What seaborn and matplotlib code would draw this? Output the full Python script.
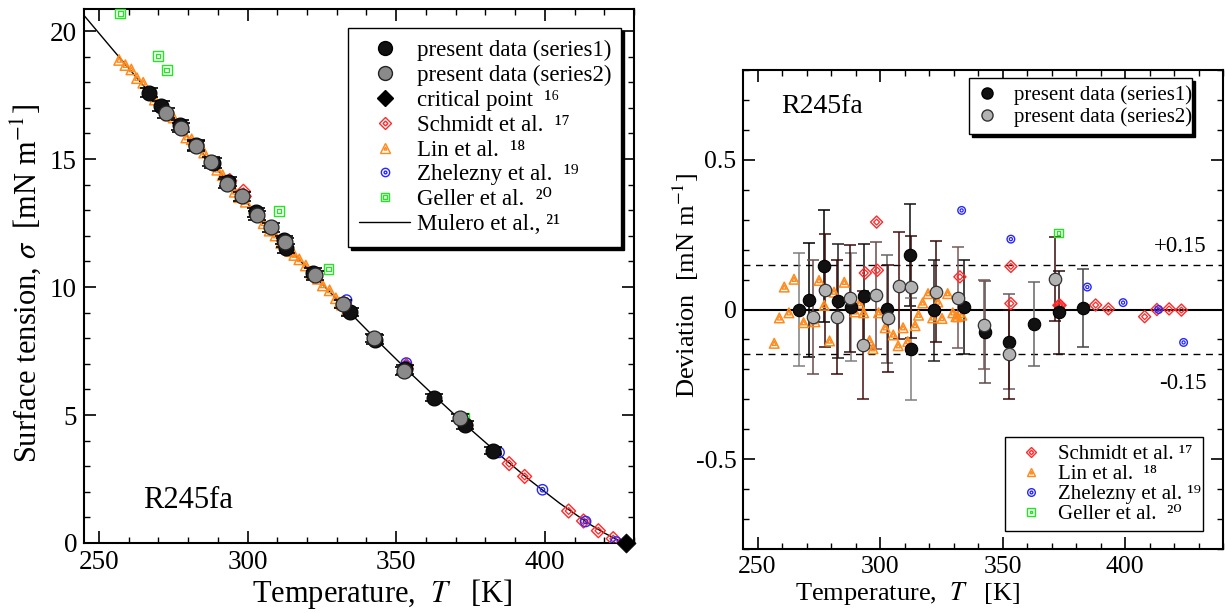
import matplotlib
matplotlib.use("Agg")
import matplotlib.pyplot as plt
import seaborn as sns
import numpy as np
import pandas as pd
from matplotlib.lines import Line2D
from matplotlib.legend_handler import HandlerTuple
from matplotlib.ticker import MultipleLocator, FixedLocator, FixedFormatter

# ------------------------------------------------------------------ data
# present data, series 1 (black)
s1_T = [266.9, 270.9, 277.3, 282.8, 288.3, 293.4, 303.0, 312.3, 312.8, 321.9,
        334.3, 342.8, 352.8, 362.8, 373.0, 382.7]
s1_sigma = [17.60, 17.07, 16.33, 15.55, 14.85, 14.11, 12.92, 11.84, 11.51, 10.56,
            9.02, 7.95, 6.78, 5.68, 4.61, 3.61]
s1_dev = [0.000, 0.031, 0.144, 0.029, 0.009, 0.045, 0.002, 0.183, -0.131, -0.003,
          0.009, -0.074, -0.107, -0.048, -0.010, 0.004]
s1_err = [0.19, 0.19, 0.187, 0.19, 0.18, 0.175, 0.18, 0.17, 0.17, 0.168,
          0.158, 0.17, 0.16, 0.14, 0.139, 0.13]

# present data, series 2 (gray)
s2_T = [272.7, 277.7, 282.6, 287.7, 293.1, 298.2, 303.3, 307.9, 312.5, 322.8,
        332.0, 342.4, 352.7, 371.5]
s2_sigma = [16.81, 16.23, 15.50, 14.89, 14.04, 13.55, 12.81, 12.33, 11.74, 10.46,
            9.33, 8.01, 6.72, 4.90]
s2_dev = [-0.024, 0.064, -0.024, 0.037, -0.118, 0.047, -0.030, 0.080, 0.074, 0.060,
          0.040, -0.051, -0.150, 0.103]
s2_err = [0.19, 0.188, 0.19, 0.18, 0.18, 0.18, 0.18, 0.18, 0.17, 0.17,
          0.168, 0.149, 0.15, 0.14]

# critical point
crit_T = [427.16]
crit_sigma = [0.0]

# Schmidt et al. 17
schmidt_T = [294.0, 298.6, 298.9, 332.6, 353.4, 353.4, 373.0, 373.5, 388.0, 393.2,
             408.0, 413.0, 418.0, 423.0]
schmidt_sigma = [14.16, 13.74, 13.54, 9.35, 6.93, 6.81, 4.66, 4.60, 3.10, 2.60,
                 1.25, 0.86, 0.48, 0.17]
schmidt_dev = [0.122, 0.292, 0.131, 0.109, 0.144, 0.020, 0.014, 0.014, 0.015, 0.002,
               -0.024, 0.000, 0.002, -0.002]

# Lin et al. 18
lin_T = [256.8, 258.9, 260.9, 262.8, 264.9, 268.8, 273.4, 275.1, 277.2, 279.4,
         281.2, 285.4, 289.8, 291.6, 293.3, 295.7, 297.1, 299.4, 302.1, 305.4,
         307.4, 309.4, 311.3, 314.3, 315.7, 317.4, 319.6, 321.5, 323.6, 325.3,
         327.6, 329.7, 331.0, 331.7, 333.4]
lin_sigma = [18.87, 18.67, 18.50, 18.16, 17.98, 17.32, 16.70, 16.62, 16.25, 15.84,
             15.77, 15.25, 14.58, 14.37, 14.12, 13.72, 13.51, 13.33, 12.93, 12.49,
             12.20, 12.01, 11.72, 11.40, 11.25, 11.08, 10.84, 10.53, 10.32, 10.06,
             9.87, 9.56, 9.39, 9.31, 9.10]
lin_dev = [-0.113, -0.028, 0.075, -0.011, 0.101, -0.044, -0.041, 0.097, 0.014, -0.105,
           0.058, 0.091, -0.008, 0.020, -0.011, -0.104, -0.131, -0.011, -0.061, -0.085,
           -0.121, -0.061, -0.107, -0.054, -0.019, 0.022, 0.053, -0.028, 0.025, -0.030,
           0.053, -0.011, -0.024, -0.024, -0.019]

# Zhelezny et al. 19
zhel_T = [333.3, 353.4, 384.6, 399.2, 413.7, 423.9]
zhel_sigma = [9.49, 7.03, 3.54, 2.08, 0.84, 0.04]
zhel_dev = [0.331, 0.235, 0.075, 0.023, 0.000, -0.110]

# Geller et al. 20
geller_T = [257.2, 269.8, 272.8, 310.6, 327.2, 372.9]
geller_sigma = [20.69, 19.02, 18.48, 12.97, 10.71, 4.89]
geller_dev = [1.76, 1.80, 1.65, 1.04, 0.84, 0.256]

# Mulero et al. 21 correlation
mulero_T = [245, 255, 265, 275, 285, 295, 305, 315, 325, 335, 345, 355, 365, 375,
            385, 395, 405, 415, 420, 425, 427.16]
mulero_sigma = [20.61, 19.23, 17.87, 16.53, 15.21, 13.91, 12.62, 11.36, 10.13, 8.93,
                7.75, 6.61, 5.51, 4.44, 3.42, 2.45, 1.55, 0.74, 0.39, 0.09, 0.0]

band = [-0.15, 0.15]
band_labels = ["-0.15", "+0.15"]

x_ticks = [250, 300, 350, 400]
yL_ticks = [0, 5, 10, 15, 20]
yR_ticks = [-0.5, 0, 0.5]
yR_tick_labels = ["-0.5", "0", "0.5"]

left_labels = ["present data (series1)", "present data (series2)",
               "critical point  \u00b9\u2076", "Schmidt et al.  \u00b9\u2077",
               "Lin et al.  \u00b9\u2078", "Zhelezny et al.  \u00b9\u2079",
               "Geller et al.  \u00b2\u2070", "Mulero et al., \u00b2\u00b9"]
right_labels_top = ["present data (series1)", "present data (series2)"]
right_labels_bottom = ["Schmidt et al. \u00b9\u2077", "Lin et al.  \u00b9\u2078",
                       "Zhelezny et al. \u00b9\u2079", "Geller et al.  \u00b2\u2070"]

# ------------------------------------------------------------------ styles
RED = "#ff2a2a"
ORANGE = "#ff8a1c"
BLUE = "#2626ff"
GREEN = "#22e622"
GRAY_L = "#8a8a8a"
GRAY_R = "#b2b2b2"

s1_bar_colors = ["#7f7f7f", "#000000", "#000000", "#222222", "#7f7f7f", "#111111",
                 "#666666", "#111111", "#7f7f7f", "#222222", "#111111", "#5a4a4a",
                 "#6b5b5b", "#666666", "#2a1010", "#444444"]
s2_bar_colors = ["#6b4b4b", "#3a0a0a", "#3a0a0a", "#3a0a0a", "#4a1010", "#6b4b4b",
                 "#3a0a0a", "#4a1010", "#3a0a0a", "#3a0a0a", "#7a5a5a", "#7a5a5a",
                 "#3a0a0a", "#3a0a0a"]

sns.set_style("ticks")
plt.rcParams.update({
    "font.family": ["Liberation Serif", "DejaVu Serif"],
    "mathtext.fontset": "stix",
    "axes.unicode_minus": False,
    "axes.linewidth": 1.5,
    "axes.edgecolor": "black",
    "xtick.direction": "in", "ytick.direction": "in",
    "xtick.top": True, "ytick.right": True,
    "xtick.major.size": 8.5, "ytick.major.size": 8.5,
    "xtick.minor.size": 4.5, "ytick.minor.size": 4.5,
    "xtick.major.width": 1.2, "ytick.major.width": 1.2,
    "xtick.minor.width": 1.0, "ytick.minor.width": 1.0,
    "xtick.color": "black", "ytick.color": "black",
    "text.color": "black", "axes.labelcolor": "black",
})
LEG_FAMILY = ["Liberation Serif", "DejaVu Serif"]

fig = plt.figure(figsize=(12.25, 6.13), dpi=100)
axL = fig.add_axes([0.0686, 0.1142, 0.4490, 0.8706])
axR = fig.add_axes([0.6068, 0.1044, 0.3916, 0.7814])


def double_marker(ax, x, y, marker, color, s_out, s_in, lw=1.0, z=3, clip=True):
    sns.scatterplot(x=x, y=y, ax=ax, marker=marker, s=s_out, color=color,
                    facecolor="none", edgecolor=color, linewidth=lw, zorder=z,
                    legend=False, clip_on=clip)
    sns.scatterplot(x=x, y=y, ax=ax, marker=marker, s=s_in, color=color,
                    facecolor="none", edgecolor=color, linewidth=lw * 0.9, zorder=z,
                    legend=False, clip_on=clip)


def dbl_handle(marker, color, ms_out, ms_in, mew=1.0):
    o = Line2D([], [], ls="none", marker=marker, ms=ms_out, mfc="none", mec=color, mew=mew)
    i = Line2D([], [], ls="none", marker=marker, ms=ms_in, mfc="none", mec=color, mew=mew)
    return (o, i)


# ------------------------------------------------------------------ left panel
sns.lineplot(x=mulero_T, y=mulero_sigma, ax=axL, color="black", linewidth=1.0,
             sort=False, estimator=None, zorder=2)
double_marker(axL, lin_T, lin_sigma, "^", ORANGE, 55, 10, lw=1.1, z=3)
double_marker(axL, schmidt_T, schmidt_sigma, "D", RED, 50, 12, lw=1.0, z=3)
double_marker(axL, zhel_T, zhel_sigma, "o", BLUE, 55, 10, lw=1.0, z=3)
double_marker(axL, geller_T, geller_sigma, "s", GREEN, 50, 10, lw=1.0, z=3, clip=False)

axL.errorbar(s1_T, s1_sigma, yerr=s1_err, fmt="none", ecolor="black",
             elinewidth=1.0, capsize=6.5, capthick=1.2, zorder=4)
axL.errorbar(s2_T, s2_sigma, yerr=s2_err, fmt="none", ecolor="black",
             elinewidth=1.0, capsize=6.5, capthick=1.2, zorder=4)
sns.scatterplot(x=s1_T, y=s1_sigma, ax=axL, marker="o", s=115, color="#111111",
                edgecolor="black", linewidth=0.8, zorder=5, legend=False)
sns.scatterplot(x=s2_T, y=s2_sigma, ax=axL, marker="o", s=115, color=GRAY_L,
                edgecolor="#222222", linewidth=0.9, zorder=6, legend=False)
sns.scatterplot(x=crit_T, y=crit_sigma, ax=axL, marker="D", s=95, color="black",
                edgecolor="black", linewidth=0.5, zorder=7, legend=False,
                clip_on=False)

axL.set_xlim(245, 430)
axL.set_ylim(0, 20.85)
axL.xaxis.set_major_locator(FixedLocator(x_ticks))
axL.xaxis.set_minor_locator(MultipleLocator(10))
axL.yaxis.set_major_locator(FixedLocator(yL_ticks))
axL.yaxis.set_minor_locator(MultipleLocator(1))
axL.tick_params(labelsize=19.5, pad=5)
axL.set_xlabel(r"Temperature,  $T$   [K]", fontsize=22)
axL.set_ylabel(r"Surface tension, $\sigma$  [mN m$^{-1}$]", fontsize=22)
axL.xaxis.set_label_coords(0.542, -0.064)
axL.yaxis.set_label_coords(-0.074, 0.487)
axL.text(264.9, 1.37, "R245fa", fontsize=22)

h_s1 = Line2D([], [], ls="none", marker="o", ms=10, mfc="#111111", mec="black")
h_s2 = Line2D([], [], ls="none", marker="o", ms=10, mfc=GRAY_L, mec="#222222")
h_cp = Line2D([], [], ls="none", marker="D", ms=8.5, mfc="black", mec="black")
h_sc = dbl_handle("D", RED, 6, 2.5)
h_li = dbl_handle("^", ORANGE, 6.5, 2.2)
h_zh = dbl_handle("o", BLUE, 6, 2)
h_ge = dbl_handle("s", GREEN, 6, 2.2)
h_mu = Line2D([], [], color="black", lw=1.0)

legL = axL.legend([h_s1, h_s2, h_cp, h_sc, h_li, h_zh, h_ge, h_mu], left_labels,
                  handler_map={tuple: HandlerTuple(ndivide=1, pad=0)},
                  loc="upper left", bbox_to_anchor=(0.2841, 0.9543, 0.2229, 0.0),
                  bbox_transform=fig.transFigure, mode="expand",
                  prop={"family": LEG_FAMILY, "size": 16.5},
                  frameon=True, fancybox=False, edgecolor="black", framealpha=1,
                  shadow={"color": "black", "alpha": 1}, borderpad=0.5,
                  labelspacing=0.17, handlelength=2.2, handletextpad=0.3,
                  borderaxespad=0)
legL.get_frame().set_linewidth(1.0)

# ------------------------------------------------------------------ right panel
for t, d, e, c in zip(s1_T, s1_dev, s1_err, s1_bar_colors):
    axR.errorbar([t], [d], yerr=[e], fmt="none", ecolor=c, elinewidth=1.1,
                 capsize=4.2, capthick=1.1, zorder=3)
for t, d, e, c in zip(s2_T, s2_dev, s2_err, s2_bar_colors):
    axR.errorbar([t], [d], yerr=[e], fmt="none", ecolor=c, elinewidth=1.1,
                 capsize=4.2, capthick=1.1, zorder=3)

axR.axhline(0, color="black", lw=1.5, zorder=2)
for b in band:
    axR.axhline(b, color="black", lw=1.0, ls=(0, (5, 4)), zorder=2)

double_marker(axR, lin_T, lin_dev, "^", ORANGE, 48, 9, lw=1.1, z=4)
double_marker(axR, schmidt_T, schmidt_dev, "D", RED, 38, 9, lw=1.0, z=4)
double_marker(axR, zhel_T, zhel_dev, "o", BLUE, 30, 5, lw=1.0, z=4)
double_marker(axR, geller_T, geller_dev, "s", GREEN, 36, 7, lw=1.0, z=4)

sns.scatterplot(x=s1_T, y=s1_dev, ax=axR, marker="o", s=80, color="#111111",
                edgecolor="black", linewidth=0.8, zorder=5, legend=False)
sns.scatterplot(x=s2_T, y=s2_dev, ax=axR, marker="o", s=80, color=GRAY_R,
                edgecolor="#333333", linewidth=0.9, zorder=6, legend=False)

axR.set_xlim(244.2, 440)
axR.set_ylim(-0.8, 0.8)
axR.xaxis.set_major_locator(FixedLocator(x_ticks))
axR.xaxis.set_minor_locator(MultipleLocator(10))
axR.yaxis.set_major_locator(FixedLocator(yR_ticks))
axR.yaxis.set_major_formatter(FixedFormatter(yR_tick_labels))
axR.yaxis.set_minor_locator(MultipleLocator(0.1))
axR.tick_params(labelsize=18.5, pad=5)
axR.set_xlabel(r"Temperature,  $T$   [K]", fontsize=19)
axR.set_ylabel(r"Deviation  [mN m$^{-1}$]", fontsize=19)
axR.xaxis.set_label_coords(0.342, -0.064)
axR.yaxis.set_label_coords(-0.088, 0.551)

axR.text(433.2, 0.192, band_labels[1], fontsize=16.5, ha="right")
axR.text(433.2, -0.264, band_labels[0], fontsize=16.5, ha="right")
axR.text(259.6, 0.657, "R245fa", fontsize=20)

h_s1r = Line2D([], [], ls="none", marker="o", ms=8, mfc="#111111", mec="black")
h_s2r = Line2D([], [], ls="none", marker="o", ms=8, mfc=GRAY_R, mec="#333333")
legR1 = axR.legend([h_s1r, h_s2r], right_labels_top,
                   loc="upper left", bbox_to_anchor=(0.791, 0.8728, 0.182, 0.0),
                   bbox_transform=fig.transFigure, mode="expand",
                   prop={"family": LEG_FAMILY, "size": 15},
                   frameon=True, fancybox=False, edgecolor="black", framealpha=1,
                   shadow={"color": "black", "alpha": 1}, borderpad=0.35,
                   labelspacing=0.1, handlelength=1.0, handletextpad=0.8,
                   borderaxespad=0)
legR1.get_frame().set_linewidth(1.0)
axR.add_artist(legR1)

legR2 = axR.legend([dbl_handle("D", RED, 5.5, 2.3), dbl_handle("^", ORANGE, 6, 2),
                    dbl_handle("o", BLUE, 5.5, 2), dbl_handle("s", GREEN, 5.5, 2)],
                   right_labels_bottom,
                   handler_map={tuple: HandlerTuple(ndivide=1, pad=0)},
                   loc="upper left", bbox_to_anchor=(0.8204, 0.2871, 0.1616, 0.0),
                   bbox_transform=fig.transFigure, mode="expand",
                   prop={"family": LEG_FAMILY, "size": 15},
                   frameon=True, fancybox=False, edgecolor="black", framealpha=1,
                   shadow=False, borderpad=0.35,
                   labelspacing=0.02, handlelength=1.75, handletextpad=0.45,
                   borderaxespad=0)
legR2.get_frame().set_linewidth(1.0)

fig.savefig("out.png", dpi=100)
